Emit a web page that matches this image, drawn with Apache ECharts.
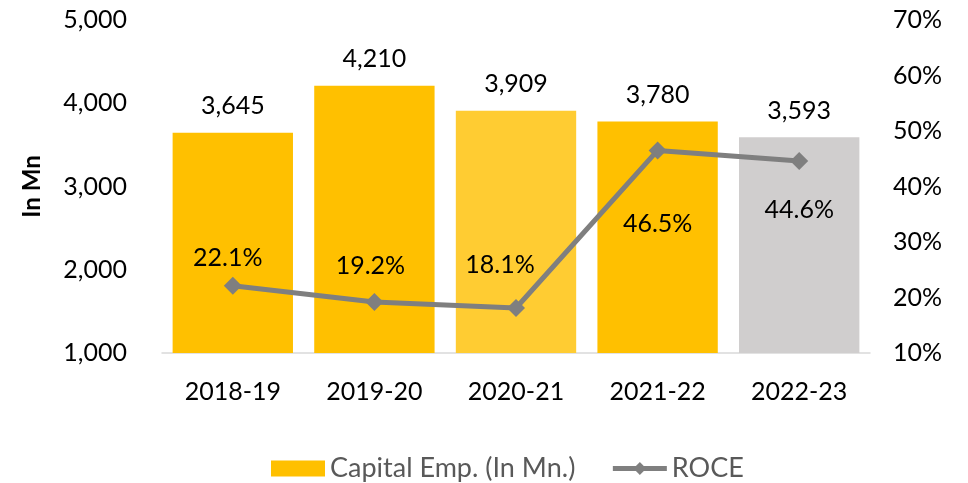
<!DOCTYPE html>
<html>
<head>
<meta charset="utf-8">
<script src="https://cdn.jsdelivr.net/npm/echarts@6/dist/echarts.min.js"></script>
<style>
    html, body { margin: 0; padding: 0; background: #fff; }
    #chart { width: 968px; height: 483px; }
</style>
</head>
<body>
<div id="chart"></div>
<script>
    // data
    var years = ['2018-19', '2019-20', '2020-21', '2021-22', '2022-23'];
    var capitalEmp = [3645, 4210, 3909, 3780, 3593];
    var roce = [22.1, 19.2, 18.1, 46.5, 44.6];

    // styling per category
    var barColors = ['#FFC000', '#FFC000', '#FFCC32', '#FFC000', '#D0CECE'];
    var roceLabelPos = ['top', 'top', 'top', 'bottom', 'bottom'];
    var roceLabelDist = [6, 15, 22, 52, 27];
    var roceLabelDx = [-5, -4, -16, 0, 0];

    var font = 'Lato, Calibri, sans-serif';
    var myChart = echarts.init(document.getElementById('chart'));

    var option = {
        animation: false,
        textStyle: { fontFamily: font },
        grid: { left: 162, right: 98, top: 20, bottom: 130 },
        legend: {
            top: 450,
            left: 266,
            itemGap: 35,
            itemWidth: 54,
            itemHeight: 16,
            textStyle: { fontSize: 27, color: '#595959', fontFamily: font },
            data: [
                { name: 'Capital Emp. (In Mn.)', icon: 'rect', itemStyle: { color: '#FFC000' } },
                { name: 'ROCE', lineStyle: { width: 5, color: '#7F7F7F' } }
            ]
        },
        xAxis: {
            type: 'category',
            data: years,
            axisLine: { lineStyle: { color: '#D9D9D9', width: 1.5 } },
            axisTick: { show: false },
            axisLabel: { color: '#000', fontSize: 25, margin: 26 }
        },
        yAxis: [
            {
                type: 'value',
                min: 1000, max: 5000, interval: 1000,
                name: 'In Mn',
                nameLocation: 'middle',
                nameGap: 118,
                nameTextStyle: { fontSize: 24, fontWeight: 'bold', color: '#000' },
                splitLine: { show: false },
                axisLine: { show: false },
                axisTick: { show: false },
                axisLabel: {
                    color: '#000', fontSize: 25, margin: 35,
                    formatter: function (v) { return v.toLocaleString('en-US'); }
                }
            },
            {
                type: 'value',
                min: 10, max: 70, interval: 10,
                splitLine: { show: false },
                axisLine: { show: false },
                axisTick: { show: false },
                axisLabel: {
                    color: '#000', fontSize: 25, margin: 23,
                    formatter: '{value}%'
                }
            }
        ],
        series: [
            {
                name: 'Capital Emp. (In Mn.)',
                type: 'bar',
                barCategoryGap: '15%',
                itemStyle: { color: '#FFC000' },
                data: capitalEmp.map(function (v, i) {
                    return { value: v, itemStyle: { color: barColors[i] } };
                }),
                label: {
                    show: true, position: 'top', distance: 14,
                    color: '#000', fontSize: 25,
                    formatter: function (p) { return p.value.toLocaleString('en-US'); }
                }
            },
            {
                name: 'ROCE',
                type: 'line',
                yAxisIndex: 1,
                symbol: 'diamond',
                symbolSize: 18,
                itemStyle: { color: '#7F7F7F' },
                lineStyle: { color: '#7F7F7F', width: 5 },
                data: roce.map(function (v, i) {
                    return {
                        value: v,
                        label: {
                            position: roceLabelPos[i],
                            distance: roceLabelDist[i],
                            offset: [roceLabelDx[i], 0]
                        }
                    };
                }),
                label: {
                    show: true,
                    color: '#000', fontSize: 25,
                    formatter: function (p) { return p.value.toFixed(1) + '%'; }
                },
                z: 5
            }
        ]
    };
    myChart.setOption(option);
</script>
</body>
</html>
